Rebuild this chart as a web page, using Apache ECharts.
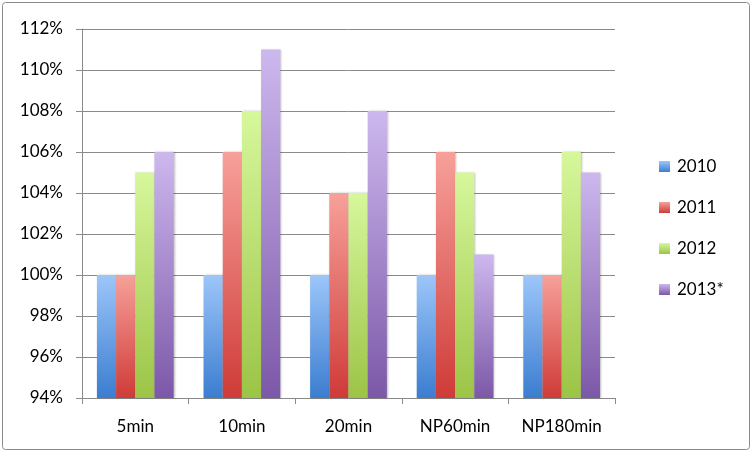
<!DOCTYPE html>
<html><head><meta charset="utf-8">
<script src="https://cdn.jsdelivr.net/npm/echarts@6/dist/echarts.min.js"></script>
<style>html,body{margin:0;padding:0;background:#fff}#c{width:753px;height:453px}</style>
</head><body><div id="c"></div>
<script>
const categories = ['5min','10min','20min','NP60min','NP180min'];
const seriesNames = ['2010','2011','2012','2013*'];
const v2010 = [100,100,100,100,100];
const v2011 = [100,106,104,106,100];
const v2012 = [105,108,104,105,106];
const v2013 = [106,111,108,101,105];
const yTicks = {min:94, max:112, interval:2};
const values = [v2010, v2011, v2012, v2013];
const grads = [['#9dc6fa','#3b7dd0'],['#f7a09a','#cf3b38'],['#d7f79c','#9cc446'],['#cdb8ee','#7c58a8']];
const font = 'Lato, "Open Sans", sans-serif';
const chart = echarts.init(document.getElementById('c'));
chart.setOption({
  animation:false,
  graphic:[{type:'rect',shape:{x:2.5,y:2.5,width:747,height:447,r:3},style:{fill:'none',stroke:'#8a8a8a',lineWidth:1}}],
  grid:{left:82,right:138,top:29,bottom:55},
  legend:{orient:'vertical',left:654,top:153,itemWidth:11,itemHeight:11,itemGap:24,icon:'rect',
    textStyle:{fontFamily:font,fontSize:17,color:'#000',padding:[0,0,0,2]},data:seriesNames},
  xAxis:{type:'category',data:categories,
    axisLine:{lineStyle:{color:'#8a8a8a'}},
    axisTick:{show:true,length:6,lineStyle:{color:'#8a8a8a'}},
    axisLabel:{fontFamily:font,fontSize:17,color:'#000',margin:20}},
  yAxis:{type:'value',min:yTicks.min,max:yTicks.max,interval:yTicks.interval,
    axisLine:{show:true,lineStyle:{color:'#8a8a8a'}},
    axisTick:{show:true,length:6,lineStyle:{color:'#8a8a8a'}},
    splitLine:{lineStyle:{color:'#8a8a8a'}},
    axisLabel:{fontFamily:font,fontSize:17,color:'#000',margin:19,formatter:v=>v+'%'}},
  series: seriesNames.map((n,i)=>({
    name:n,type:'bar',data:values[i],barGap:'0%',barCategoryGap:'28%',
    itemStyle:{color:new echarts.graphic.LinearGradient(0,0,0,1,[{offset:0,color:grads[i][0]},{offset:1,color:grads[i][1]}]),
      shadowColor:'rgba(0,0,0,0.25)',shadowBlur:2,shadowOffsetX:1}
  }))
});
</script></body></html>
